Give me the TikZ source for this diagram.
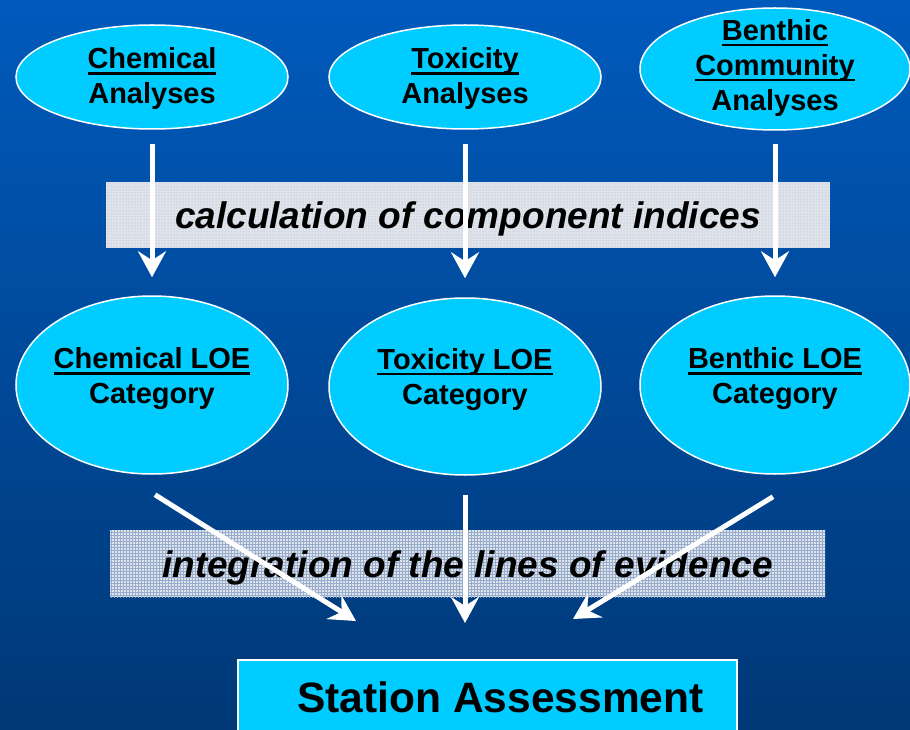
\documentclass[tikz,border=0pt]{standalone}
\usepackage{fontspec}
\setmainfont{Liberation Sans}
\usetikzlibrary{shapes.geometric, arrows.meta, patterns}
\definecolor{bgtop}{RGB}{0,90,188}
\definecolor{bgbottom}{RGB}{0,56,118}
\definecolor{cyanfill}{RGB}{0,204,255}
\definecolor{bandgray}{RGB}{224,228,234}
\definecolor{banddot}{RGB}{150,172,205}
\newsavebox{\ulbox}
\newcommand{\ulword}[1]{\sbox{\ulbox}{#1}\rlap{\rule[-6pt]{\wd\ulbox}{2.8pt}}\usebox{\ulbox}}

\begin{document}
\begin{tikzpicture}[x=1pt, y=-1pt,
        elli/.style={ellipse, draw=white, line width=1.5pt, fill=cyanfill, inner sep=0pt},
        etext/.style={align=center, inner sep=0pt, font=\fontsize{29}{35}\selectfont\bfseries},
        band/.style={rectangle, inner sep=0pt, text height=35pt, text depth=8pt, preaction={fill=bandgray},
            pattern=dots, pattern color=banddot, font=\fontsize{37}{44}\selectfont\bfseries\itshape},
        flow/.style={draw=white, line width=5pt, -{Stealth[length=26pt, width=28pt, inset=9pt]}}]
        \useasboundingbox (0,0) rectangle (910,730);
        \fill[top color=bgtop, bottom color=bgbottom] (0,0) rectangle (910,730);

        \node[band, minimum width=724, minimum height=66] (calc) at (468,215) {calculation of component indices};
        \node[band, pattern=grid, minimum width=715, minimum height=67] (integ) at (467.5,563.5) {integration of the lines of evidence};

        \node[elli, minimum width=272, minimum height=104] (chemA) at (152,77) {};
        \node[elli, minimum width=272, minimum height=104] (toxA) at (465,77) {};
        \node[elli, minimum width=270, minimum height=122] (bentA) at (775,69) {};
        \node[elli, minimum width=272, minimum height=178] (chemL) at (152,385) {};
        \node[elli, minimum width=272, minimum height=177] (toxL) at (465,386.5) {};
        \node[elli, minimum width=270, minimum height=178] (bentL) at (775,385) {};

        \node[etext, yshift=-2pt] (chemAt) at (chemA) {\ulword{Chemical}\\Analyses};
        \node[etext, yshift=-2pt] (toxAt) at (toxA) {\ulword{Toxicity}\\Analyses};
        \node[etext, yshift=1pt] (bentAt) at (bentA) {\ulword{Benthic}\\\ulword{Community}\\Analyses};
        \node[etext, yshift=6pt] (chemLt) at (chemL) {\ulword{Chemical LOE}\\Category};
        \node[etext, yshift=7pt] (toxLt) at (toxL) {\ulword{Toxicity LOE}\\Category};
        \node[etext, yshift=6pt] (bentLt) at (bentL) {\ulword{Benthic LOE}\\Category};

        \node[rectangle, draw=white, line width=1.2pt, fill=cyanfill, minimum width=499, minimum height=84] (station) at (487.5,702) {};
        \node[inner sep=0pt, font=\fontsize{42.5}{50}\selectfont\bfseries] (stationT) at (500.5,697.5) {Station Assessment};

        \draw[flow, shorten <=14pt, shorten >=18pt] (chemA.south) -- (chemL.north);
        \draw[flow, shorten <=14pt, shorten >=19pt] (toxA.south) -- (toxL.north);
        \draw[flow, shorten <=13pt, shorten >=18pt] (bentA.south) -- (bentL.north);

        \coordinate (in1) at (356,621);
        \coordinate (in2) at (465,623);
        \coordinate (in3) at (573,619);
        \draw[flow] ([shift={(3,20)}]chemL.south) -- (in1);
        \draw[flow, shorten <=19pt] (toxL.south) -- (in2);
        \draw[flow] ([shift={(-2,22)}]bentL.south) -- (in3);
\end{tikzpicture}
\end{document}
